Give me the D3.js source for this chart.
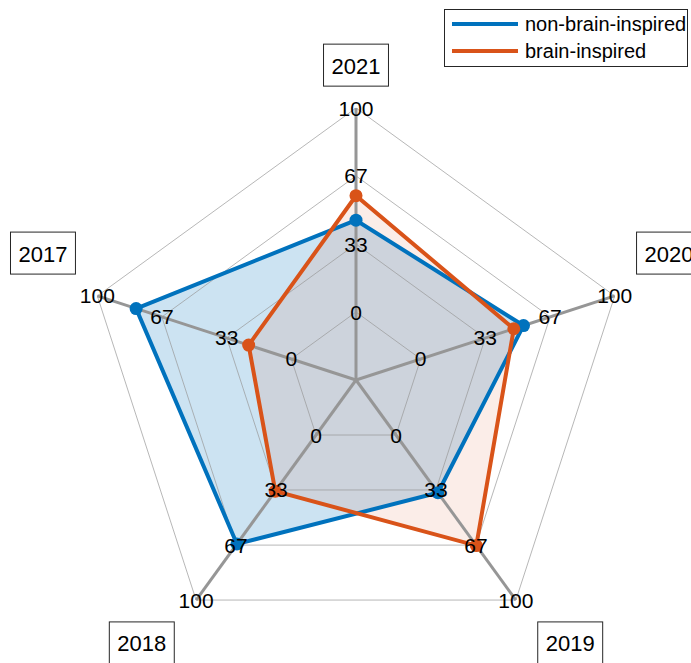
<!DOCTYPE html>
<html>
<head>
<meta charset="utf-8">
<script src="https://cdn.jsdelivr.net/npm/d3@7/dist/d3.min.js"></script>
<style>
  html, body { margin: 0; padding: 0; background: #fff; }
  svg { display: block; font-family: "Liberation Sans", Arial, Helvetica, sans-serif; }
</style>
</head>
<body>
<svg id="chart" width="691" height="663"></svg>
<script>
// ---- data ----
const categories = ["2021", "2017", "2018", "2019", "2020"];
const seriesNames = ["non-brain-inspired", "brain-inspired"];
const nonBrainInspired = [45, 80, 66, 35, 53];
const brainInspired = [57, 22, 34, 67, 48];
const tickLabels = ["0", "33", "67", "100"];
const tickValues = [0, 33.3, 66.7, 100];
const seriesColors = ["#0072BD", "#D95319"];
const fillOpacity = [0.2, 0.1];

const series = [nonBrainInspired, brainInspired];

// ---- layout ----
const svg = d3.select("#chart");
const cx = 356, cy = 380, R = 272;
const r = d3.scaleLinear().domain([0, 100]).range([R / 4, R]);
const angle = d3.scaleLinear().domain([0, categories.length]).range([Math.PI / 2, Math.PI / 2 + 2 * Math.PI]);
const px = (i, rad) => cx + rad * Math.cos(angle(i));
const py = (i, rad) => cy - rad * Math.sin(angle(i));

const line = d3.line().x(d => d[0]).y(d => d[1]).curve(d3.curveLinearClosed);

// fills
const gFill = svg.append("g");
series.forEach((vals, s) => {
  const pts = vals.map((v, i) => [px(i, r(v)), py(i, r(v))]);
  gFill.append("path").attr("d", line(pts))
    .attr("fill", seriesColors[s]).attr("fill-opacity", fillOpacity[s]).attr("stroke", "none");
});

// rings
const gAxes = svg.append("g");
tickValues.forEach(tv => {
  const pts = categories.map((c, i) => [px(i, r(tv)), py(i, r(tv))]);
  gAxes.append("path").attr("d", line(pts))
    .attr("fill", "none").attr("stroke", "#999").attr("stroke-opacity", 0.7).attr("stroke-width", 1);
});
// spokes
categories.forEach((c, i) => {
  gAxes.append("line")
    .attr("x1", cx).attr("y1", cy)
    .attr("x2", px(i, r(100))).attr("y2", py(i, r(100)))
    .attr("stroke", "#969696").attr("stroke-width", 3);
});

// data lines and markers
series.forEach((vals, s) => {
  const pts = vals.map((v, i) => [px(i, r(v)), py(i, r(v))]);
  svg.append("path").attr("d", line(pts))
    .attr("fill", "none").attr("stroke", seriesColors[s]).attr("stroke-width", 4)
    .attr("stroke-linejoin", "miter");
  svg.append("g").selectAll("circle").data(pts).join("circle")
    .attr("cx", d => d[0]).attr("cy", d => d[1]).attr("r", 6.5)
    .attr("fill", seriesColors[s]);
});

// tick labels
const gTicks = svg.append("g");
categories.forEach((c, i) => {
  tickValues.forEach((tv, k) => {
    gTicks.append("text")
      .attr("x", px(i, r(tv))).attr("y", py(i, r(tv)))
      .attr("text-anchor", "middle").attr("dominant-baseline", "central")
      .attr("font-size", 21).attr("fill", "#000")
      .text(tickLabels[k]);
  });
});

// axis labels with boxes
const shift = 0.13 * R, edge = 13.5, boxH = 42, padX = 8;
const gLab = svg.append("g");
categories.forEach((c, i) => {
  const a = angle(i);
  const ca = Math.cos(a), sa = Math.sin(a);
  const eps = 1e-6;
  const hx = Math.abs(ca) < eps ? 0 : Math.sign(ca);
  const hy = Math.abs(sa) < eps ? 0 : Math.sign(sa);
  const ax = px(i, R) + hx * shift;
  const ay = py(i, R) - (hy === 0 ? 0 : hy) * shift;
  const g = gLab.append("g");
  const t = g.append("text").attr("font-size", 22).attr("fill", "#000")
    .attr("text-anchor", "middle").attr("dominant-baseline", "central").text(c);
  const w = t.node().getComputedTextLength() + 2 * padX;
  let bx; // box left
  if (hx > 0) bx = ax - edge;
  else if (hx < 0) bx = ax + edge - w;
  else bx = ax - w / 2;
  let by; // box top
  if (hy > 0) by = ay + edge - boxH;
  else if (hy < 0) by = ay - edge;
  else by = ay - boxH / 2;
  g.insert("rect", "text").attr("x", bx).attr("y", by).attr("width", w).attr("height", boxH)
    .attr("fill", "#fff").attr("stroke", "#262626").attr("stroke-width", 1);
  t.attr("x", bx + w / 2).attr("y", by + boxH / 2 + 1);
});

// legend
const lg = svg.append("g");
lg.append("rect").attr("x", 444.5).attr("y", 9.5).attr("width", 243).attr("height", 57)
  .attr("fill", "#fff").attr("stroke", "#262626").attr("stroke-width", 1);
seriesNames.forEach((n, s) => {
  const y = 24 + s * 27;
  lg.append("line").attr("x1", 452).attr("x2", 518).attr("y1", y).attr("y2", y)
    .attr("stroke", seriesColors[s]).attr("stroke-width", 4);
  lg.append("text").attr("x", 525).attr("y", y).attr("dominant-baseline", "central")
    .attr("font-size", 20).attr("fill", "#000").text(n);
});
</script>
</body>
</html>
